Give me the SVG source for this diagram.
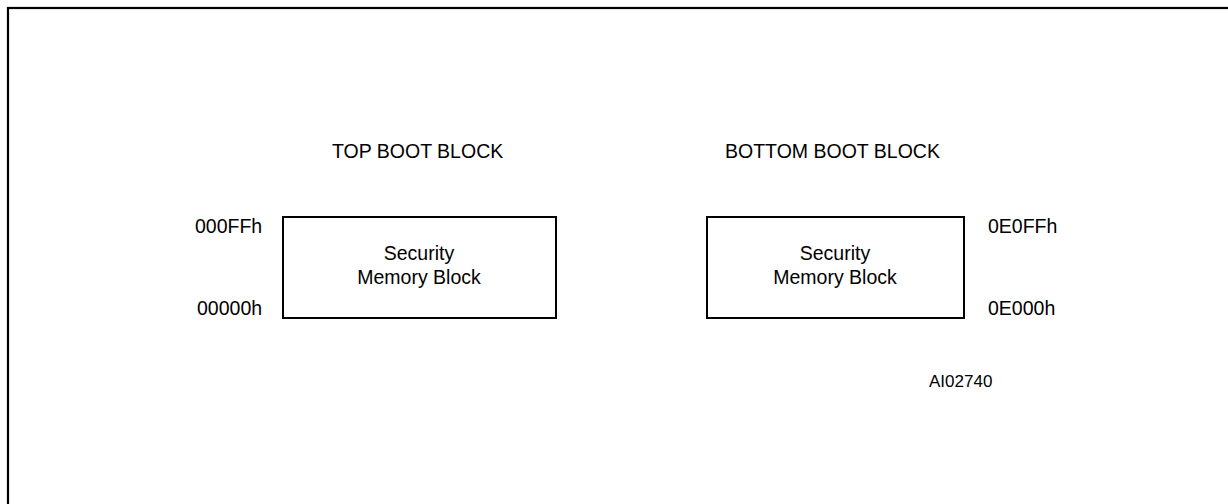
<svg xmlns="http://www.w3.org/2000/svg" width="1228" height="504" viewBox="0 0 1228 504">
<style>
text{font-family:"Liberation Sans",Arial,sans-serif;fill:#000;font-size:19.5px}
.c{text-anchor:middle}
.box{fill:#fff;stroke:#000;stroke-width:2}
.frame{fill:none;stroke:#000;stroke-width:2.2}
</style>
<rect width="1228" height="504" fill="#fff"/>
<rect class="frame" x="8" y="8" width="1240" height="520"/>
<g id="title-top"><text x="332" y="158">TOP BOOT BLOCK</text></g>
<g id="title-bottom"><text x="725" y="158">BOTTOM BOOT BLOCK</text></g>
<g id="top-block">
<rect class="box" x="283" y="217" width="273" height="101"/>
<text class="c" x="419" y="260">Security</text>
<text class="c" x="419" y="284">Memory Block</text>
<text x="195" y="233">000FFh</text>
<text x="197" y="315">00000h</text>
</g>
<g id="bottom-block">
<rect class="box" x="707" y="217" width="257" height="101"/>
<text class="c" x="835" y="260">Security</text>
<text class="c" x="835" y="284">Memory Block</text>
<text x="988" y="233">0E0FFh</text>
<text x="988" y="315">0E000h</text>
</g>
<g id="connectors"></g>
<g id="ref"><text x="929" y="387" style="font-size:17px">AI02740</text></g>
</svg>
